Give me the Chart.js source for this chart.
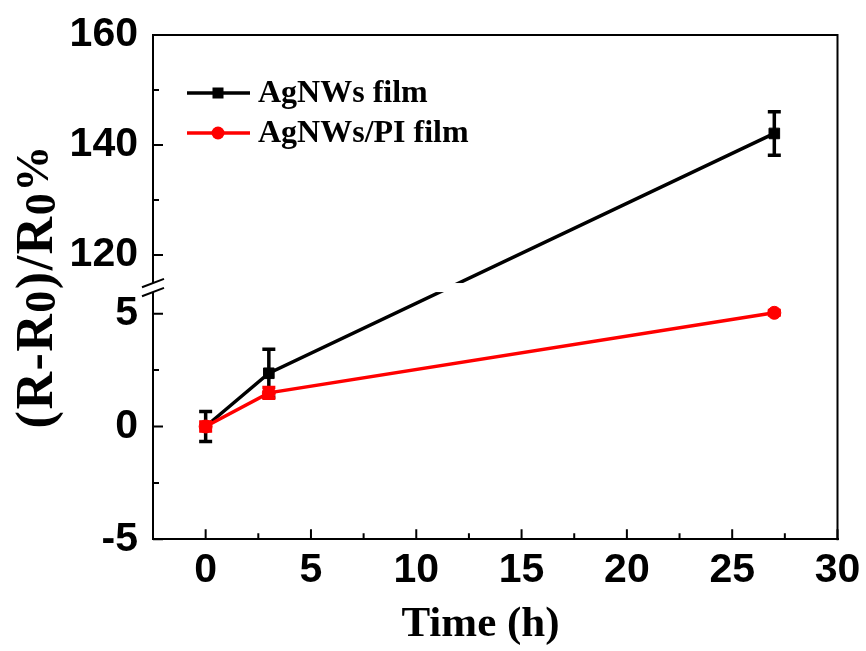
<!DOCTYPE html>
<html>
<head>
<meta charset="utf-8">
<script src="https://cdn.jsdelivr.net/npm/chart.js@4/dist/chart.umd.min.js"></script>
<style>
html,body{margin:0;padding:0;background:#fff;}
canvas{display:block;}
</style>
</head>
<body>
<canvas id="c" width="866" height="651"></canvas>
<script>
// ---------------- data ----------------
const timeHours = [0, 3, 27];
const agnwsValues = [0, 2.36, 142.1];
const agnwsErrors = [0.66, 1.06, 3.95];
const agnwsPiValues = [0, 1.49, 5.04];
const agnwsPiErrors = [0.2, 0.24, 0.1];
const seriesLabels = ['AgNWs film', 'AgNWs/PI film'];
const seriesColors = ['#000000', '#ff0000'];
const xMajorTicks = [0, 5, 10, 15, 20, 25, 30];
const xMinorTicks = [2.5, 7.5, 12.5, 17.5, 22.5, 27.5];
const yMajorTicks = [-5, 0, 5, 120, 140, 160];
const yMinorTicks = [-2.5, 2.5, 130, 150];
const xTitle = 'Time (h)';
const yTitleParts = ['(R-R', '0', ')/R', '0', '%'];

// ---------------- broken y axis definition ----------------
const Y_MIN = -5, Y_MAX = 160;
const BREAK_LOW = 5.96;     // top of the lower segment
const BREAK_HIGH = 114.9;   // bottom of the upper segment
const BREAK_GAP = 0.4;      // gap size, in lower-segment units
const UPPER_RATIO = 0.2438; // length of one upper unit relative to a lower unit

function toVirtual(v) {
  if (v <= BREAK_LOW) return v;
  if (v >= BREAK_HIGH) return BREAK_LOW + BREAK_GAP + (v - BREAK_HIGH) * UPPER_RATIO;
  return BREAK_LOW + (v - BREAK_LOW) / (BREAK_HIGH - BREAK_LOW) * BREAK_GAP;
}
function fromVirtual(u) {
  if (u <= BREAK_LOW) return u;
  if (u >= BREAK_LOW + BREAK_GAP) return BREAK_HIGH + (u - BREAK_LOW - BREAK_GAP) / UPPER_RATIO;
  return BREAK_LOW + (u - BREAK_LOW) / BREAK_GAP * (BREAK_HIGH - BREAK_LOW);
}

const LinearScale = Chart.LinearScale || Chart.registry.getScale('linear');
class BrokenLinearScale extends LinearScale {
  determineDataLimits() {
    this.min = toVirtual(Y_MIN);
    this.max = toVirtual(Y_MAX);
  }
  buildTicks() {
    return yMajorTicks.map(v => ({ value: v }));
  }
  getPixelForValue(value) {
    if (value === null || value === undefined || isNaN(value)) return NaN;
    return super.getPixelForValue(toVirtual(value));
  }
  getValueForPixel(pixel) {
    return fromVirtual(super.getValueForPixel(pixel));
  }
}
BrokenLinearScale.id = 'brokenLinear';
BrokenLinearScale.defaults = LinearScale.defaults;
Chart.register(BrokenLinearScale);

const SANS = '"Liberation Sans", Arial, Helvetica, sans-serif';
const SERIF = '"Liberation Serif", "Times New Roman", Times, serif';

// draw text char by char with extra spacing
function spacedWidth(ctx, text, spacing) {
  let w = 0;
  for (const ch of text) w += ctx.measureText(ch).width + spacing;
  return w;
}
function drawSpaced(ctx, text, x, y, spacing) {
  for (const ch of text) {
    ctx.fillText(ch, x, y);
    x += ctx.measureText(ch).width + spacing;
  }
  return x;
}

// ---------------- plugins ----------------
const errorBarPlugin = {
  id: 'errorBars',
  afterDatasetDraw(chart, args) {
    const ds = chart.data.datasets[args.index];
    if (!ds.errorValues) return;
    const ctx = chart.ctx, xs = chart.scales.x, ys = chart.scales.y;
    ctx.save();
    ctx.strokeStyle = ds.borderColor;
    ctx.lineWidth = 3.5;
    ds.data.forEach((p, i) => {
      const e = ds.errorValues[i];
      if (!e) return;
      const px = xs.getPixelForValue(p.x);
      const top = ys.getPixelForValue(p.y + e);
      const bot = ys.getPixelForValue(p.y - e);
      ctx.beginPath();
      ctx.moveTo(px, top); ctx.lineTo(px, bot);
      ctx.moveTo(px - 6.5, top); ctx.lineTo(px + 6.5, top);
      ctx.moveTo(px - 6.5, bot); ctx.lineTo(px + 6.5, bot);
      ctx.stroke();
    });
    ctx.restore();
  }
};

const breakPlugin = {
  id: 'axisBreak',
  afterDatasetsDraw(chart) {
    const ctx = chart.ctx, ys = chart.scales.y, a = chart.chartArea;
    const yTop = ys.getPixelForValue(BREAK_HIGH);
    const yBot = ys.getPixelForValue(BREAK_LOW);
    ctx.save();
    ctx.fillStyle = '#ffffff';
    ctx.fillRect(a.left - 3, yTop, a.right - a.left - 1, yBot - yTop);
    ctx.restore();
  }
};

const decorPlugin = {
  id: 'decor',
  afterDraw(chart) {
    const ctx = chart.ctx, a = chart.chartArea, xs = chart.scales.x, ys = chart.scales.y;
    ctx.save();
    ctx.strokeStyle = '#000';
    ctx.lineWidth = 2;
    // top & right frame
    ctx.beginPath();
    ctx.moveTo(a.left - 1, a.top); ctx.lineTo(a.right, a.top); ctx.lineTo(a.right, a.bottom + 1);
    ctx.stroke();
    // inward ticks
    ctx.beginPath();
    xMajorTicks.forEach(v => { const p = xs.getPixelForValue(v); ctx.moveTo(p, a.bottom); ctx.lineTo(p, a.bottom - 10); });
    xMinorTicks.forEach(v => { const p = xs.getPixelForValue(v); ctx.moveTo(p, a.bottom); ctx.lineTo(p, a.bottom - 6); });
    yMajorTicks.forEach(v => { const p = ys.getPixelForValue(v); ctx.moveTo(a.left, p); ctx.lineTo(a.left + 10, p); });
    yMinorTicks.forEach(v => { const p = ys.getPixelForValue(v); ctx.moveTo(a.left, p); ctx.lineTo(a.left + 6, p); });
    ctx.stroke();
    // break marks on left axis
    const yTop = ys.getPixelForValue(BREAK_HIGH);
    const yBot = ys.getPixelForValue(BREAK_LOW);
    ctx.beginPath();
    [yTop, yBot].forEach(yy => { ctx.moveTo(a.left - 11, yy + 4.2); ctx.lineTo(a.left + 11, yy - 4.2); });
    ctx.stroke();

    // legend
    const lx = a.left + 34, rows = [a.top + 58, a.top + 98];
    chart.data.datasets.forEach((ds, i) => {
      const y = rows[i];
      ctx.strokeStyle = ds.borderColor;
      ctx.fillStyle = ds.borderColor;
      ctx.lineWidth = 3.5;
      ctx.beginPath(); ctx.moveTo(lx, y); ctx.lineTo(lx + 63, y); ctx.stroke();
      const mx = lx + 31;
      if (ds.pointStyle === 'rect') {
        ctx.fillRect(mx - 5.5, y - 5.5, 11, 11);
      } else {
        ctx.beginPath(); ctx.arc(mx, y, 6.5, 0, Math.PI * 2); ctx.fill();
      }
      ctx.fillStyle = '#000';
      ctx.font = 'bold 32px ' + SERIF;
      ctx.textBaseline = 'alphabetic';
      ctx.textAlign = 'left';
      ctx.fillText(ds.label, lx + 71, y + 9);
    });

    // x title
    ctx.fillStyle = '#000';
    ctx.font = 'bold 43px ' + SERIF;
    ctx.textAlign = 'center';
    ctx.textBaseline = 'alphabetic';
    ctx.fillText(xTitle, 480.5, 636);

    // y title (rotated)
    ctx.textAlign = 'left';
    const parts = [
      { t: yTitleParts[0], size: 52, dy: 0 },
      { t: yTitleParts[1], size: 44, dy: 3 },
      { t: yTitleParts[2], size: 52, dy: 0 },
      { t: yTitleParts[3], size: 44, dy: 3 },
      { t: yTitleParts[4], size: 46, dy: -4 }
    ];
    const ysp = 1.5;
    let total = 0;
    parts.forEach(p => { ctx.font = 'bold ' + p.size + 'px ' + SERIF; total += spacedWidth(ctx, p.t, ysp); });
    total -= ysp;
    ctx.translate(52, (a.top + a.bottom) / 2);
    ctx.rotate(-Math.PI / 2);
    let cx = -total / 2;
    parts.forEach(p => {
      ctx.font = 'bold ' + p.size + 'px ' + SERIF;
      cx = drawSpaced(ctx, p.t, cx, p.dy, ysp);
    });
    ctx.restore();
  }
};

// ---------------- chart ----------------
const tickFont = { family: SANS, weight: 'bold', size: 41 };

new Chart(document.getElementById('c'), {
  type: 'line',
  data: {
    datasets: [
      {
        label: seriesLabels[0],
        data: timeHours.map((t, i) => ({ x: t, y: agnwsValues[i] })),
        errorValues: agnwsErrors,
        borderColor: seriesColors[0],
        backgroundColor: seriesColors[0],
        borderWidth: 3.5,
        pointStyle: 'rect',
        pointRadius: 7.5,
        pointBorderWidth: 1,
        tension: 0,
        order: 2
      },
      {
        label: seriesLabels[1],
        data: timeHours.map((t, i) => ({ x: t, y: agnwsPiValues[i] })),
        errorValues: agnwsPiErrors,
        borderColor: seriesColors[1],
        backgroundColor: seriesColors[1],
        borderWidth: 3.5,
        pointStyle: 'circle',
        pointRadius: 6.5,
        pointBorderWidth: 1,
        tension: 0,
        order: 1
      }
    ]
  },
  options: {
    responsive: false,
    devicePixelRatio: 1,
    animation: false,
    layout: { padding: { top: 35, right: 28.5, left: 0, bottom: 0 } },
    plugins: { legend: { display: false }, tooltip: { enabled: false }, title: { display: false } },
    scales: {
      x: {
        type: 'linear',
        min: -2.5,
        max: 30,
        afterBuildTicks: s => { s.ticks = xMajorTicks.map(v => ({ value: v })); },
        afterFit: s => { s.height = 111.7; s.paddingLeft = 0; s.paddingRight = 0; },
        grid: { display: true, drawTicks: false, color: 'rgba(0,0,0,0)', lineWidth: 2 },
        border: { display: true, color: '#000', width: 2 },
        ticks: { font: tickFont, color: '#000', padding: 7, autoSkip: false, maxRotation: 0, callback: v => String(v) }
      },
      y: {
        type: 'brokenLinear',
        position: 'left',
        afterFit: s => { s.width = 153; s.paddingTop = 0; s.paddingBottom = 0; },
        grid: { display: true, drawTicks: false, color: 'rgba(0,0,0,0)', lineWidth: 2 },
        border: { display: true, color: '#000', width: 2 },
        ticks: { font: tickFont, color: '#000', padding: 15, autoSkip: false, callback: v => String(v) }
      }
    }
  },
  plugins: [errorBarPlugin, breakPlugin, decorPlugin]
});
</script>
</body>
</html>
